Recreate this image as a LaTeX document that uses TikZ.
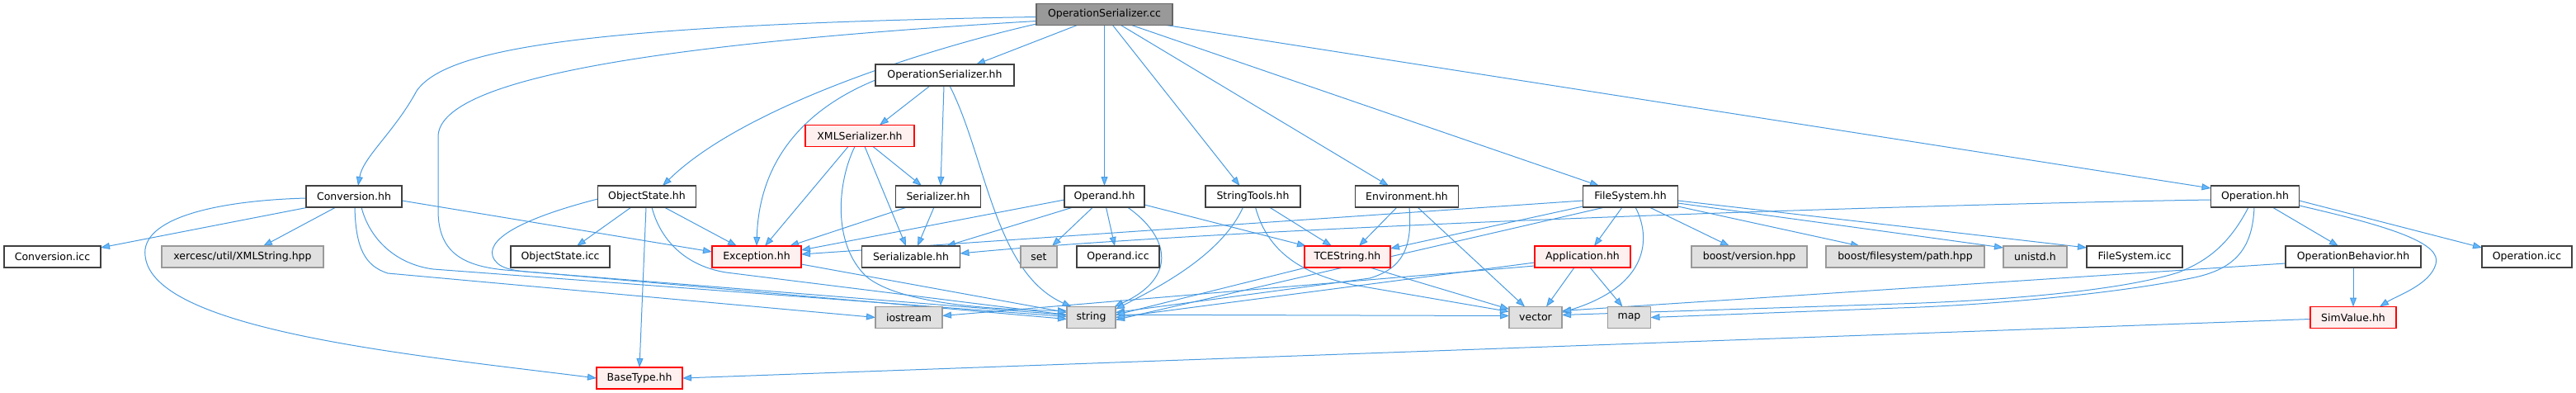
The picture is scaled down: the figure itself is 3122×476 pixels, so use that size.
\documentclass[tikz,border=0pt]{standalone}
\usepackage{fontspec}
\setmainfont{DejaVu Sans}
\usetikzlibrary{arrows.meta}
\pgfdeclarelayer{bg}
\pgfsetlayers{bg,main}
\definecolor{edgec}{HTML}{4A9BE0}
\definecolor{tipc}{HTML}{63B8FF}
\definecolor{sysfill}{HTML}{E0E0E0}
\definecolor{sysdraw}{HTML}{999999}
\definecolor{redfill}{HTML}{FFF0F0}
\definecolor{rootfill}{HTML}{999999}
\definecolor{rootdraw}{HTML}{666666}
\definecolor{plaindraw}{HTML}{404040}
\begin{document}
\begin{tikzpicture}[x=0.5pt,y=-0.5pt,
  wd/.style={minimum width=#1*0.5pt},
  box/.style={line width=0.6pt, minimum height=13pt, inner sep=0pt,
    font=\fontsize{6.25}{7}\selectfont},
  plainbox/.style={box, draw=plaindraw, fill=white},
  sysbox/.style={box, draw=sysdraw, fill=sysfill, line width=0.55pt},
  redbox/.style={box, draw=red, fill=redfill},
  rootbox/.style={box, draw=rootdraw, fill=rootfill},
  dep/.style={draw=edgec, line width=0.5pt,
    -{Triangle[length=5.5pt,width=4pt,fill=tipc]}}]
\useasboundingbox (0,0) rectangle (3122,476);
% row 0-2
\node[rootbox, wd=165] (osc) at (1338.5,17.5) {OperationSerializer.cc};
\node[plainbox, wd=168] (osh) at (1145,91) {OperationSerializer.hh};
\node[redbox, wd=132] (xmls) at (1042,164.5) {XMLSerializer.hh};
% row 3
\node[plainbox, wd=116] (conv) at (429,238) {Conversion.hh};
\node[plainbox, wd=119] (objs) at (784,238) {ObjectState.hh};
\node[plainbox, wd=103] (ser) at (1137,238) {Serializer.hh};
\node[plainbox, wd=97] (opnd) at (1338.5,238) {Operand.hh};
\node[plainbox, wd=115] (strt) at (1518.5,238) {StringTools.hh};
\node[plainbox, wd=125] (env) at (1705,238) {Environment.hh};
\node[plainbox, wd=115] (fs) at (1976,238) {FileSystem.hh};
\node[plainbox, wd=107] (oph) at (2733,238) {Operation.hh};
% row 4
\node[plainbox, wd=117] (convicc) at (63.5,311) {Conversion.icc};
\node[sysbox, wd=196] (xerc) at (294,311) {xercesc/util/XMLString.hpp};
\node[plainbox, wd=120] (objicc) at (679,311) {ObjectState.icc};
\node[redbox, wd=108] (exc) at (917,311) {Exception.hh};
\node[plainbox, wd=119] (serz) at (1104,311) {Serializable.hh};
\node[sysbox, wd=44] (set) at (1259,311) {set};
\node[plainbox, wd=100] (opicc) at (1355,311) {Operand.icc};
\node[redbox, wd=104] (tce) at (1633,311) {TCEString.hh};
\node[redbox, wd=116] (app) at (1918,311) {Application.hh};
\node[sysbox, wd=140] (bver) at (2120,311) {boost/version.hpp};
\node[sysbox, wd=192] (bpath) at (2309,311) {boost/filesystem/path.hpp};
\node[sysbox, wd=77] (unistd) at (2466.5,311) {unistd.h};
\node[plainbox, wd=116] (fsicc) at (2587,311) {FileSystem.icc};
\node[plainbox, wd=164] (opb) at (2852,311) {OperationBehavior.hh};
\node[plainbox, wd=109] (opicc2) at (3062.5,311) {Operation.icc};
% row 5
\node[sysbox, wd=81] (iostream) at (1101.5,384.5) {iostream};
\node[sysbox, wd=59] (string) at (1322.5,384.5) {string};
\node[sysbox, wd=64] (vector) at (1861,384.5) {vector};
\node[sysbox, wd=52] (map) at (1974.5,384.5) {map};
\node[redbox, wd=104] (simv) at (2852,384.5) {SimValue.hh};
% row 6
\node[redbox, wd=104] (base) at (775,458) {BaseType.hh};

\begin{pgfonlayer}{bg}
% OperationSerializer.cc
\draw[dep] ([shift={(-82.5,3)}]osc.center) .. controls (700,30) and (540,60) .. (505,110) .. controls (478,160) and (440,190) .. ([shift={(5,-13)}]conv.center);
\draw[dep] ([shift={(-82.5,8)}]osc.center) .. controls (760,55) and (533,100) .. (531,165) -- (531,255) .. controls (531,305) and (560,322) .. (612,327) -- ([shift={(-29.5,-3)}]string.center);
\draw[dep] ([shift={(-82.5,11.5)}]osc.center) .. controls (1120,60) and (900,130) .. ([shift={(19,-13)}]objs.center);
\draw[dep] ([shift={(-33,13)}]osc.center) -- ([shift={(38,-13)}]osh.center);
\draw[dep] ([shift={(0,13)}]osc.center) -- ([shift={(0,-13)}]opnd.center);
\draw[dep] ([shift={(10,13)}]osc.center) -- ([shift={(-16,-13)}]strt.center);
\draw[dep] ([shift={(20,13)}]osc.center) -- ([shift={(-22,-13)}]env.center);
\draw[dep] ([shift={(33,13)}]osc.center) -- ([shift={(-38,-13)}]fs.center);
\draw[dep] ([shift={(75,13)}]osc.center) -- ([shift={(-53.5,-10)}]oph.center);
% OperationSerializer.hh
\draw[dep] ([shift={(-18,13)}]osh.center) -- ([shift={(24,-13)}]xmls.center);
\draw[dep] ([shift={(-1,13)}]osh.center) -- ([shift={(3,-13)}]ser.center);
\draw[dep] ([shift={(6,13)}]osh.center) .. controls (1195,190) and (1205,330) .. ([shift={(-24,-13)}]string.center);
\draw[dep] ([shift={(-84,6)}]osh.center) .. controls (980,130) and (920,190) .. ([shift={(0,-13)}]exc.center);
% XMLSerializer.hh
\draw[dep] ([shift={(16,13)}]xmls.center) -- ([shift={(-20,-13)}]ser.center);
\draw[dep] ([shift={(-14,13)}]xmls.center) -- ([shift={(10,-13)}]exc.center);
\draw[dep] ([shift={(6,13)}]xmls.center) -- ([shift={(-6,-13)}]serz.center);
\draw[dep] ([shift={(-6,13)}]xmls.center) .. controls (1015,220) and (1008,295) .. (1050,335) .. controls (1090,368) and (1200,375) .. ([shift={(-29.5,-8)}]string.center);
% Serializer.hh
\draw[dep] ([shift={(-38,13)}]ser.center) -- ([shift={(40,-13)}]exc.center);
\draw[dep] ([shift={(-5,13)}]ser.center) -- ([shift={(8,-13)}]serz.center);
% Conversion.hh
\draw[dep] ([shift={(-55,13)}]conv.center) -- ([shift={(58.5,-11)}]convicc.center);
\draw[dep] ([shift={(-22,13)}]conv.center) -- ([shift={(25,-13)}]xerc.center);
\draw[dep] ([shift={(-58,2)}]conv.center) .. controls (260,243) and (170,265) .. (176,310) .. controls (185,400) and (500,430) .. ([shift={(-52,0)}]base.center);
\draw[dep] ([shift={(58,5)}]conv.center) -- ([shift={(-54,-6)}]exc.center);
\draw[dep] ([shift={(9,13)}]conv.center) .. controls (448,290) and (480,320) .. (525,326) -- ([shift={(-29.5,-1)}]string.center);
\draw[dep] ([shift={(1,13)}]conv.center) .. controls (431,300) and (442,322) .. (470,331) -- ([shift={(-40.5,0)}]iostream.center);
% ObjectState.hh
\draw[dep] ([shift={(-19,13)}]objs.center) -- ([shift={(20,-13)}]objicc.center);
\draw[dep] ([shift={(-1,13)}]objs.center) -- ([shift={(0,-13)}]base.center);
\draw[dep] ([shift={(21,13)}]objs.center) -- ([shift={(-24,-13)}]exc.center);
\draw[dep] ([shift={(-59.5,3)}]objs.center) .. controls (650,260) and (590,285) .. (597,310) .. controls (602,325) and (620,328) .. (650,330) -- ([shift={(-29.5,2)}]string.center);
\draw[dep] ([shift={(6,13)}]objs.center) .. controls (800,290) and (830,322) .. (880,330) -- (1290,381) -- ([shift={(-32,-2)}]vector.center);
% Operand.hh
\draw[dep] ([shift={(-48.5,4)}]opnd.center) -- ([shift={(54,-8)}]exc.center);
\draw[dep] ([shift={(-38,13)}]opnd.center) -- ([shift={(43,-13)}]serz.center);
\draw[dep] ([shift={(-14,13)}]opnd.center) -- ([shift={(16,-13)}]set.center);
\draw[dep] ([shift={(2,13)}]opnd.center) -- ([shift={(-4,-13)}]opicc.center);
\draw[dep] ([shift={(28,13)}]opnd.center) .. controls (1415,285) and (1430,335) .. ([shift={(28,-13)}]string.center);
\draw[dep] ([shift={(48.5,10)}]opnd.center) -- ([shift={(-50,-13)}]tce.center);
% StringTools.hh
\draw[dep] ([shift={(20,13)}]strt.center) -- ([shift={(-19,-13)}]tce.center);
\draw[dep] ([shift={(-12,13)}]strt.center) .. controls (1480,310) and (1400,350) .. ([shift={(29.5,-10)}]string.center);
\draw[dep] ([shift={(3,13)}]strt.center) .. controls (1535,300) and (1570,330) .. (1640,345) -- ([shift={(-32,-7)}]vector.center);
% Environment.hh
\draw[dep] ([shift={(-12,13)}]env.center) -- ([shift={(14,-13)}]tce.center);
\draw[dep] ([shift={(3,13)}]env.center) .. controls (1712,300) and (1700,325) .. (1660,337) -- ([shift={(29.5,-6)}]string.center);
\draw[dep] ([shift={(13,13)}]env.center) -- ([shift={(-13,-13)}]vector.center);
% FileSystem.hh
\draw[dep] ([shift={(-57.5,5)}]fs.center) -- ([shift={(54,-3)}]exc.center);
\draw[dep] ([shift={(-57.5,12)}]fs.center) -- ([shift={(52,-10)}]tce.center);
\draw[dep] ([shift={(-10,13)}]fs.center) -- ([shift={(14,-13)}]app.center);
\draw[dep] ([shift={(6,13)}]fs.center) .. controls (2000,285) and (2002,345) .. ([shift={(32,-6)}]vector.center);
\draw[dep] ([shift={(23,13)}]fs.center) -- ([shift={(-24,-13)}]bver.center);
\draw[dep] ([shift={(57.5,12)}]fs.center) -- ([shift={(-55,-13)}]bpath.center);
\draw[dep] ([shift={(57.5,8)}]fs.center) -- ([shift={(-38.5,-11)}]unistd.center);
\draw[dep] ([shift={(57.5,5)}]fs.center) -- ([shift={(-58,-11)}]fsicc.center);
\draw[dep] ([shift={(-31,13)}]fs.center) -- ([shift={(29.5,3)}]string.center);
% Application.hh
\draw[dep] ([shift={(-58,7)}]app.center) -- ([shift={(29.5,0)}]string.center);
\draw[dep] ([shift={(-58,11)}]app.center) -- ([shift={(40.5,-2)}]iostream.center);
\draw[dep] ([shift={(-10,13)}]app.center) -- ([shift={(13,-13)}]vector.center);
\draw[dep] ([shift={(9,13)}]app.center) -- ([shift={(-8,-13)}]map.center);
% TCEString.hh
\draw[dep] ([shift={(-50,13)}]tce.center) -- ([shift={(29.5,-3)}]string.center);
\draw[dep] ([shift={(27,13)}]tce.center) -- ([shift={(-32,-10)}]vector.center);
% Exception.hh
\draw[dep] ([shift={(54,9)}]exc.center) -- ([shift={(-29.5,-6)}]string.center);
% Operation.hh
\draw[dep] ([shift={(-53.5,4)}]oph.center) .. controls (2300,248) and (1500,275) .. ([shift={(59.5,-4)}]serz.center);
\draw[dep] ([shift={(21,13)}]oph.center) -- ([shift={(-18,-13)}]opb.center);
\draw[dep] ([shift={(53.5,5)}]oph.center) -- ([shift={(-54.5,-11)}]opicc2.center);
\draw[dep] ([shift={(53.5,11)}]oph.center) .. controls (2900,275) and (2960,295) .. (2952,320) .. controls (2945,345) and (2905,358) .. ([shift={(32,-13)}]simv.center);
\draw[dep] ([shift={(-8,13)}]oph.center) .. controls (2700,300) and (2670,318) .. (2640,330) .. controls (2560,355) and (2400,365) .. (2300,368) -- ([shift={(32,-3)}]vector.center);
\draw[dep] ([shift={(-1,13)}]oph.center) .. controls (2730,300) and (2710,325) .. (2660,336) .. controls (2560,357) and (2400,370) .. (2300,373) -- ([shift={(26,0)}]map.center);
% OperationBehavior.hh
\draw[dep] ([shift={(-82,8)}]opb.center) -- ([shift={(32,-8)}]vector.center);
\draw[dep] ([shift={(0,13)}]opb.center) -- ([shift={(0,-13)}]simv.center);
% SimValue.hh
\draw[dep] ([shift={(-52,2)}]simv.center) -- ([shift={(52,0)}]base.center);
\end{pgfonlayer}
\end{tikzpicture}
\end{document}
